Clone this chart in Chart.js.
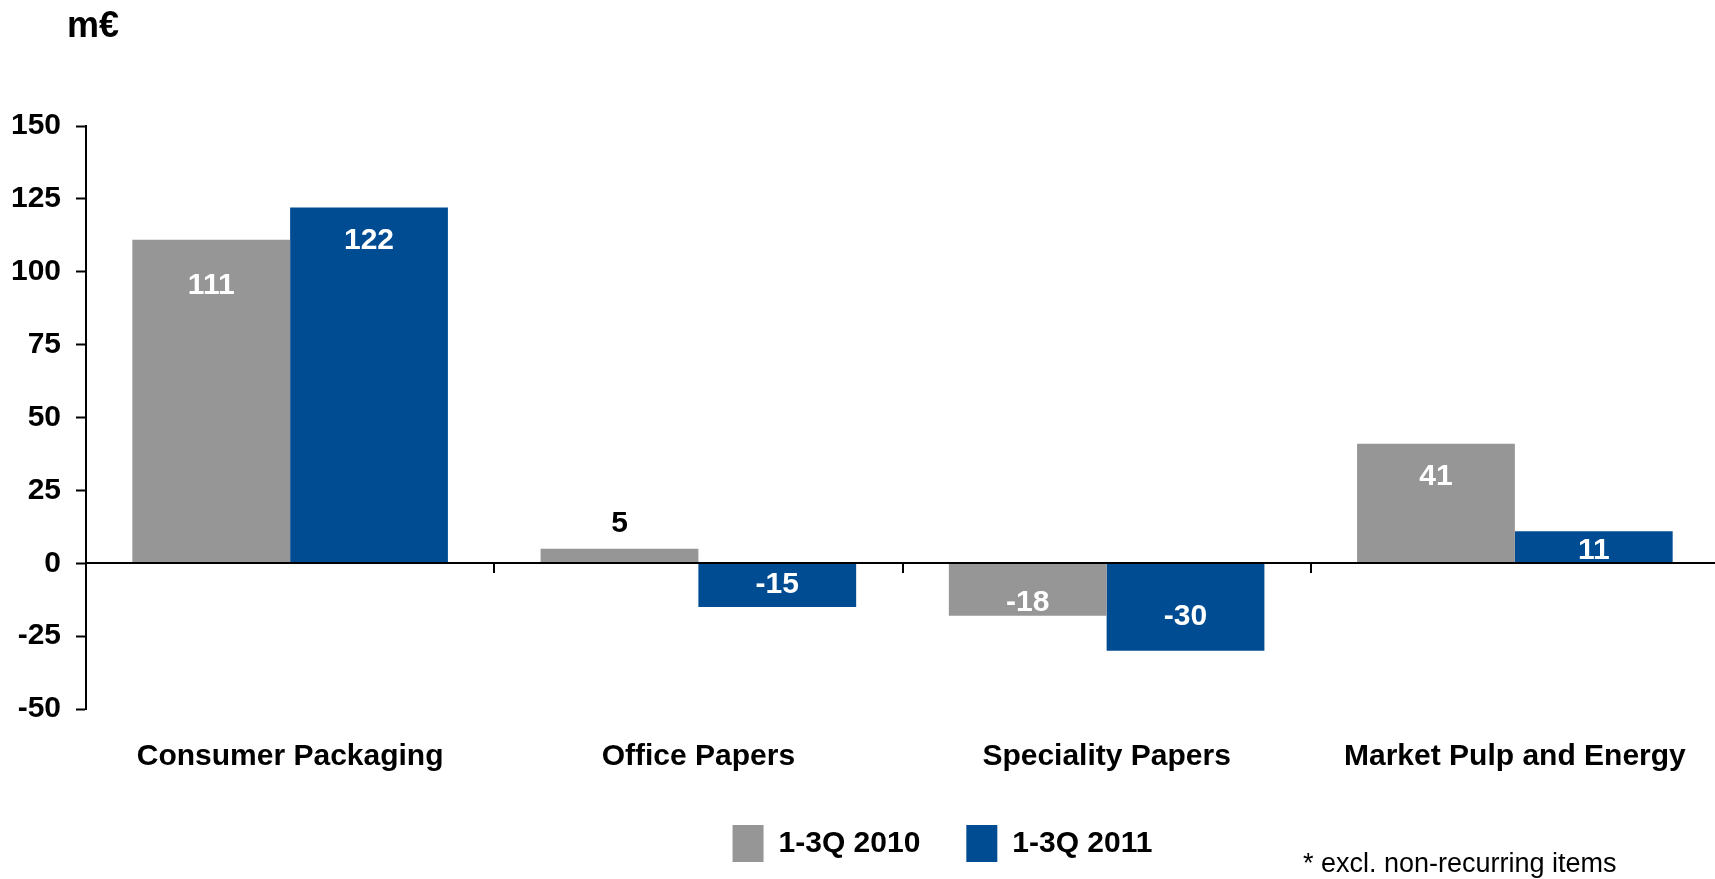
<!DOCTYPE html>
<html>
<head>
<meta charset="utf-8">
<script src="https://cdn.jsdelivr.net/npm/chart.js@4.4.0/dist/chart.umd.min.js"></script>
<style>
  html, body { margin: 0; padding: 0; background: #fff; overflow: hidden; }
  #wrap { width: 1719px; height: 879px; position: relative; }
</style>
</head>
<body>
<div id="wrap"><canvas id="ebitChart"></canvas></div>
<script>
const categories = ['Consumer Packaging', 'Office Papers', 'Speciality Papers', 'Market Pulp and Energy'];
const seriesNames = ['1-3Q 2010', '1-3Q 2011'];
const values2010 = [111, 5, -18, 41];
const values2011 = [122, -15, -30, 11];
const yTicks = [-50, -25, 0, 25, 50, 75, 100, 125, 150];

const FONT = "'Liberation Sans', Arial, sans-serif";
const GREY = '#969696';
const BLUE = '#004c93';

// distance of each value label from the bar end, measured into the bar (negative = outside)
const labelInset = [
    [46, -25, 13, 33],
    [33, 22, 34, 20]
];

// value labels on the bars
const valueLabels = {
    id: 'valueLabels',
    afterDatasetsDraw(chart) {
        const ctx = chart.ctx;
        ctx.save();
        ctx.font = `bold 30px ${FONT}`;
        ctx.textAlign = 'center';
        ctx.textBaseline = 'middle';
        chart.data.datasets.forEach((ds, di) => {
            chart.getDatasetMeta(di).data.forEach((bar, i) => {
                const dir = bar.base >= bar.y ? 1 : -1;
                const inset = labelInset[di][i];
                ctx.fillStyle = inset < 0 ? '#000' : '#fff';
                ctx.fillText(String(ds.data[i]), bar.x, bar.y + dir * inset);
            });
        });
        ctx.restore();
    }
};

// zero line and the small category separators hanging from it
const zeroAxis = {
    id: 'zeroAxis',
    afterDatasetsDraw(chart) {
        const { ctx, chartArea, scales: { x, y } } = chart;
        const y0 = Math.round(y.getPixelForValue(0));
        ctx.save();
        ctx.strokeStyle = '#000';
        ctx.lineWidth = 2;
        ctx.beginPath();
        ctx.moveTo(chartArea.left, y0);
        ctx.lineTo(chartArea.right, y0);
        for (let i = 1; i < categories.length; i++) {
            const px = Math.round((x.getPixelForValue(i - 1) + x.getPixelForValue(i)) / 2);
            ctx.moveTo(px, y0);
            ctx.lineTo(px, y0 + 10);
        }
        ctx.stroke();
        ctx.restore();
    }
};

// unit label and footnote
const notes = {
    id: 'notes',
    afterDraw(chart) {
        const ctx = chart.ctx;
        ctx.save();
        ctx.fillStyle = '#000';
        ctx.textAlign = 'left';
        ctx.textBaseline = 'alphabetic';
        ctx.font = `bold 36px ${FONT}`;
        ctx.fillText('m€', 67, 37);
        ctx.font = `27px ${FONT}`;
        ctx.fillText('* excl. non-recurring items', 1303, 872);
        ctx.restore();
    }
};

// legend sits right of centre
const legendShift = {
    id: 'legendShift',
    afterLayout(chart) {
        chart.legend.left += 77;
        chart.legend.right += 77;
    }
};

new Chart(document.getElementById('ebitChart'), {
    type: 'bar',
    data: {
        labels: categories,
        datasets: [
            { label: seriesNames[0], data: values2010, backgroundColor: GREY, borderWidth: 0 },
            { label: seriesNames[1], data: values2011, backgroundColor: BLUE, borderWidth: 0 }
        ]
    },
    options: {
        responsive: true,
        maintainAspectRatio: false,
        animation: false,
        categoryPercentage: 0.773,
        barPercentage: 1,
        layout: { padding: { left: 12, top: 126, right: 0, bottom: 7 } },
        plugins: {
            legend: {
                position: 'bottom',
                labels: {
                    boxWidth: 31,
                    boxHeight: 37,
                    padding: 46,
                    color: '#000',
                    font: { family: FONT, size: 30, weight: 'bold' }
                }
            },
            tooltip: { enabled: false }
        },
        scales: {
            x: {
                grid: { display: false, drawTicks: false },
                border: { display: false },
                ticks: {
                    color: '#000',
                    padding: 30,
                    font: { family: FONT, size: 30, weight: 'bold' }
                },
                afterFit(scale) { scale.height = 70; }
            },
            y: {
                min: -50,
                max: 150,
                afterBuildTicks(scale) { scale.ticks = yTicks.map(v => ({ value: v })); },
                grid: { drawOnChartArea: false, tickLength: 10, tickColor: '#000', tickWidth: 2 },
                border: { display: true, color: '#000', width: 2 },
                ticks: {
                    color: '#000',
                    padding: 15,
                    font: { family: FONT, size: 30, weight: 'bold' }
                },
                afterFit(scale) { scale.width = 74; }
            }
        }
    },
    plugins: [valueLabels, zeroAxis, notes, legendShift]
});
</script>
</body>
</html>
